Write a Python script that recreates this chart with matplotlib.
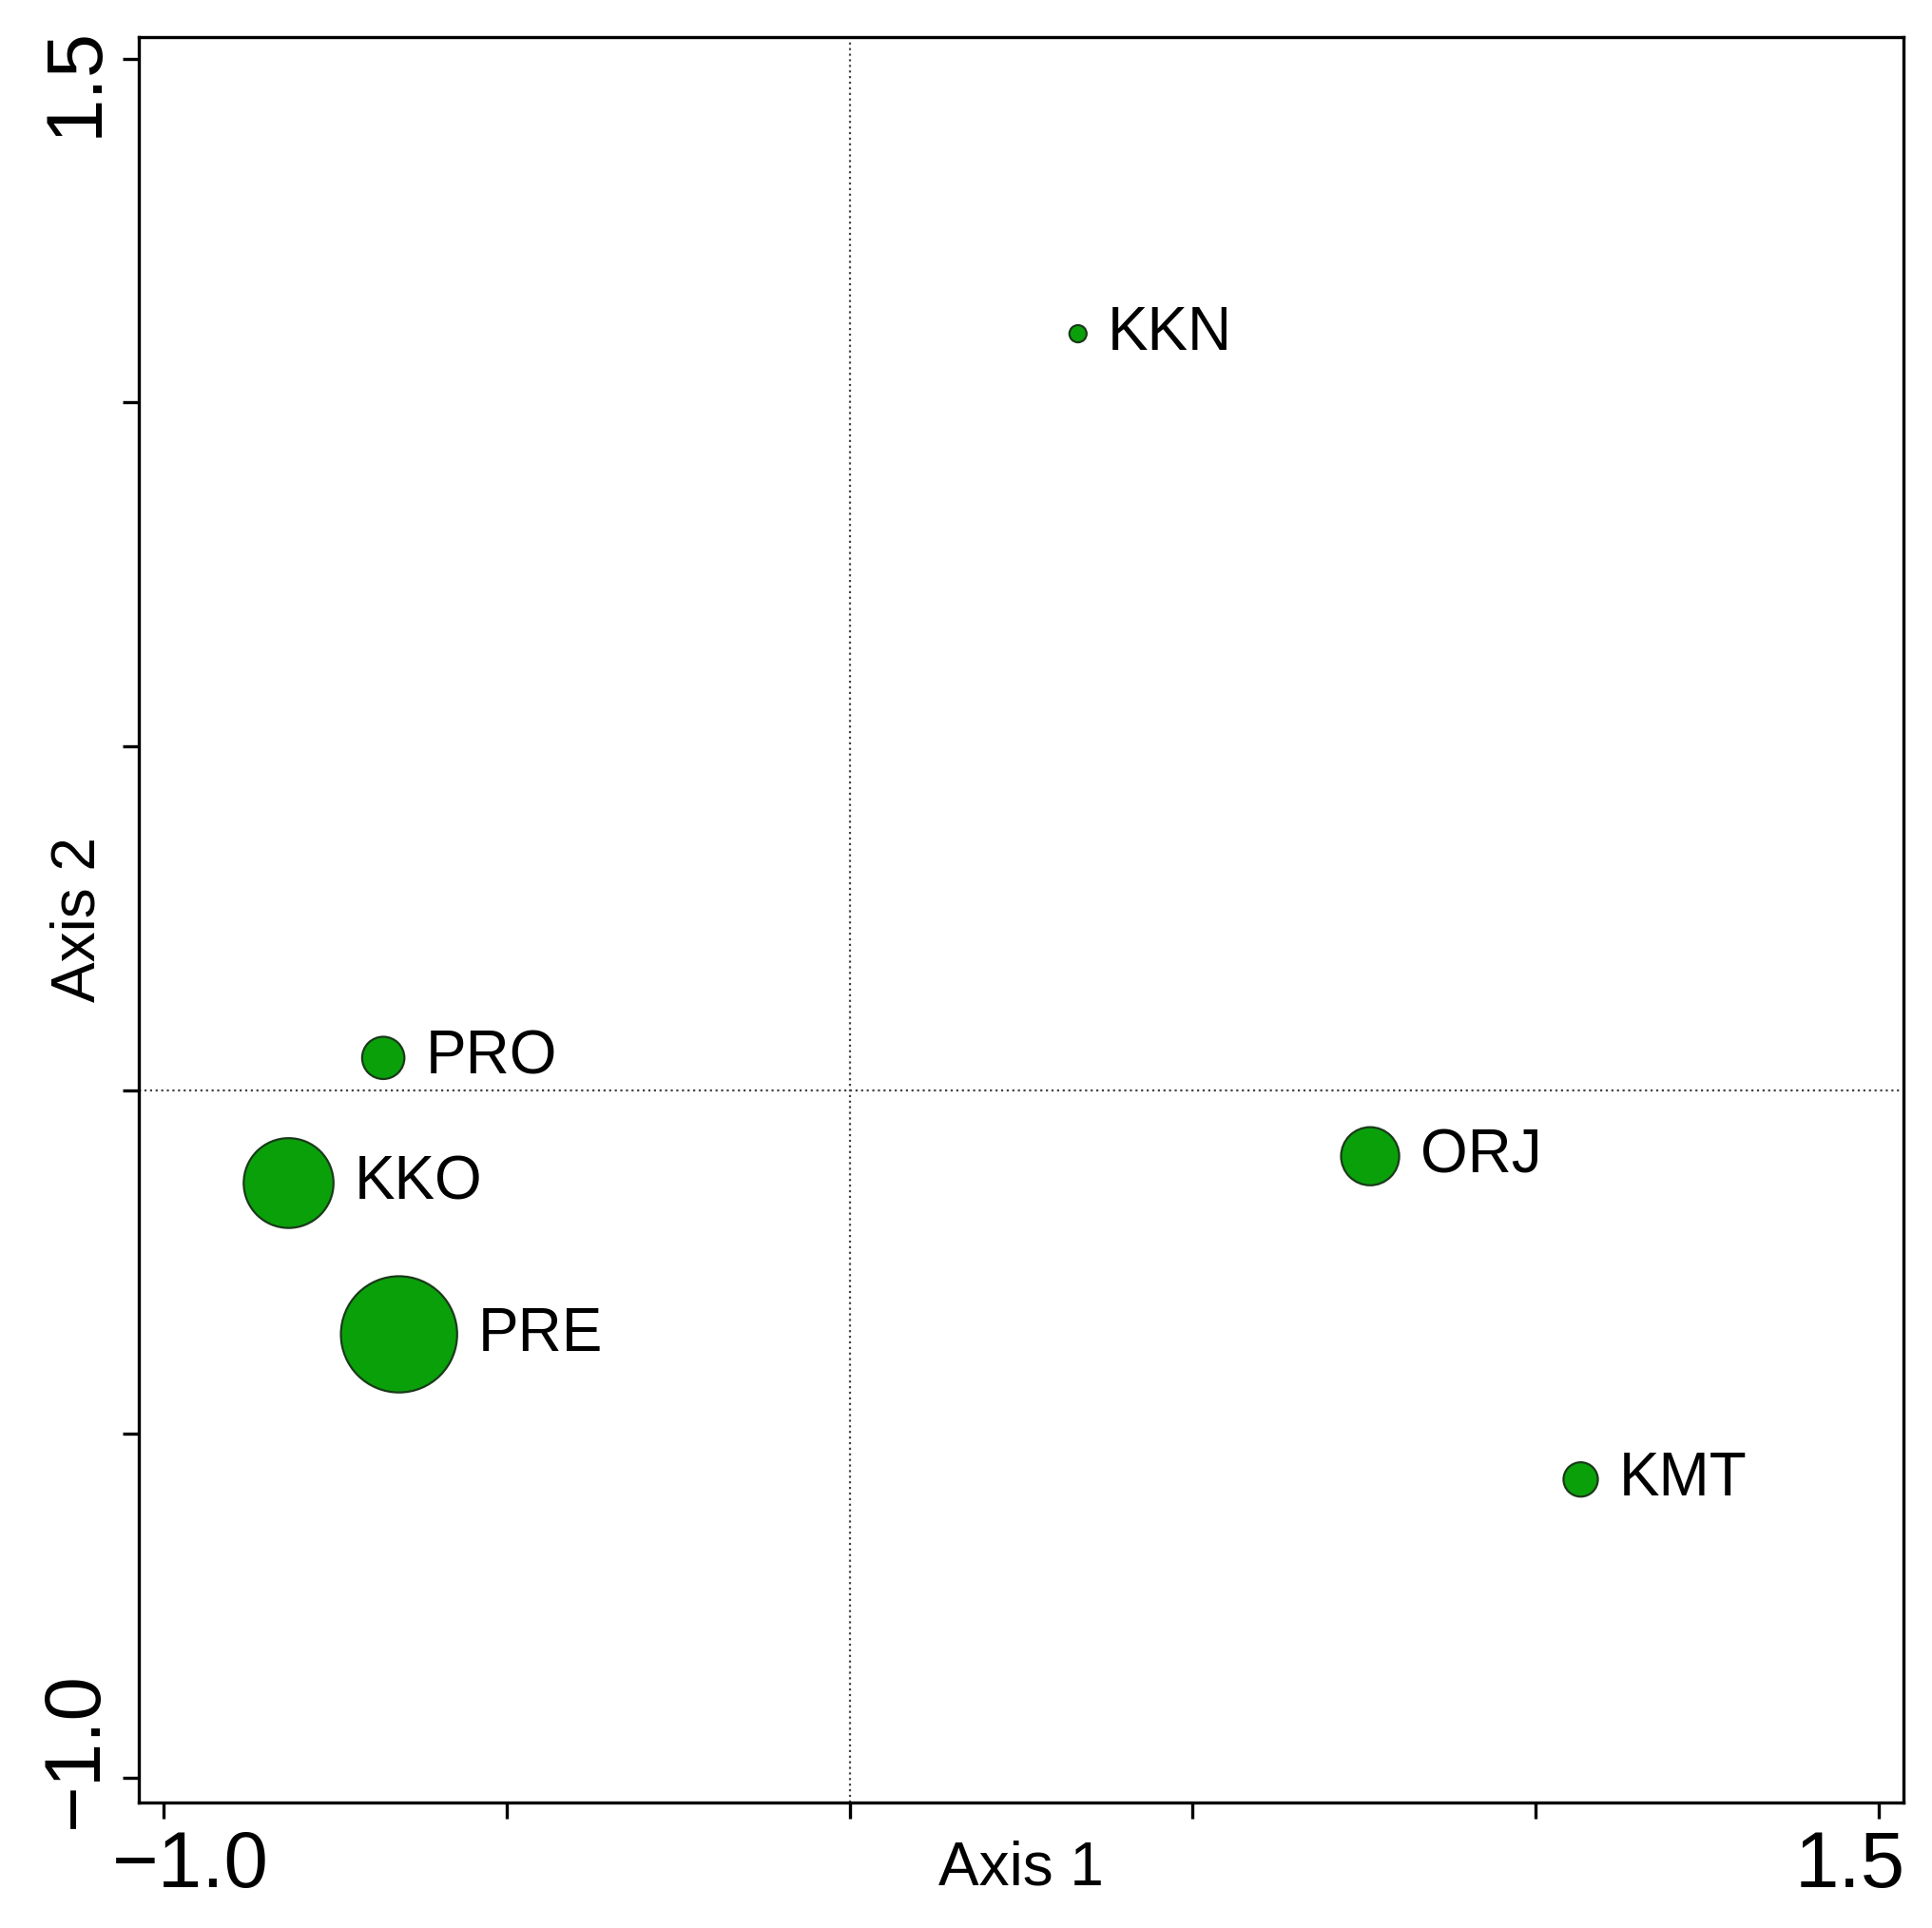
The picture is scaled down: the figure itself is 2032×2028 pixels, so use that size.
import matplotlib.pyplot as plt
from matplotlib.transforms import ScaledTranslation

plt.rcParams["font.family"] = ["Liberation Sans", "DejaVu Sans"]

labels = ["KKN", "PRO", "KKO", "PRE", "ORJ", "KMT"]
axis1 = [0.333, -0.680, -0.818, -0.657, 0.759, 1.066]
axis2 = [1.100, 0.047, -0.135, -0.355, -0.096, -0.566]
# marker diameters in points
diam = [6.5, 16, 34, 44, 22, 13]

fig = plt.figure(figsize=(10.16, 10.14), dpi=200)
ax = fig.add_axes([0.072, 0.065, 0.913, 0.916])

ax.scatter(axis1, axis2, s=[d ** 2 for d in diam], color="#0aa00a",
           edgecolors="#1a3a1a", linewidths=0.8, zorder=3)
for x, y, lab, d in zip(axis1, axis2, labels, diam):
    ax.annotate(lab, (x, y), xytext=(d / 2 + 8, 0), textcoords="offset points",
                va="center", ha="left", fontsize=23)

ax.axhline(0, color="#444444", linestyle=":", linewidth=0.8, zorder=1)
ax.axvline(0, color="#444444", linestyle=":", linewidth=0.8, zorder=1)

ax.set_xlim(-1.036, 1.536)
ax.set_ylim(-1.036, 1.532)
ticks = [-1.0, -0.5, 0.0, 0.5, 1.0, 1.5]
ax.set_xticks(ticks)
ax.set_yticks(ticks)
ax.set_xticklabels(["\u22121.0", "", "", "", "", "1.5"], fontsize=30)
ax.set_yticklabels(["\u22121.0", "", "", "", "", "1.5"], fontsize=30,
                   rotation=90, va="center")
ax.tick_params(direction="out", length=6, width=1.2, pad=4)

# nudge end labels inward like the original
shifts_x = [0.14, 0, 0, 0, 0, -0.15]
for lab, dx in zip(ax.get_xticklabels(), shifts_x):
    lab.set_transform(lab.get_transform() + ScaledTranslation(dx, 0, fig.dpi_scale_trans))
shifts_y = [0.15, 0, 0, 0, 0, -0.12]
for lab, dy in zip(ax.get_yticklabels(), shifts_y):
    lab.set_transform(lab.get_transform() + ScaledTranslation(0, dy, fig.dpi_scale_trans))

ax.set_xlabel("Axis 1", fontsize=23, labelpad=-24)
ax.set_ylabel("Axis 2", fontsize=23, labelpad=-26)
for s in ax.spines.values():
    s.set_linewidth(1.2)

fig.savefig("out.png", dpi=200)
